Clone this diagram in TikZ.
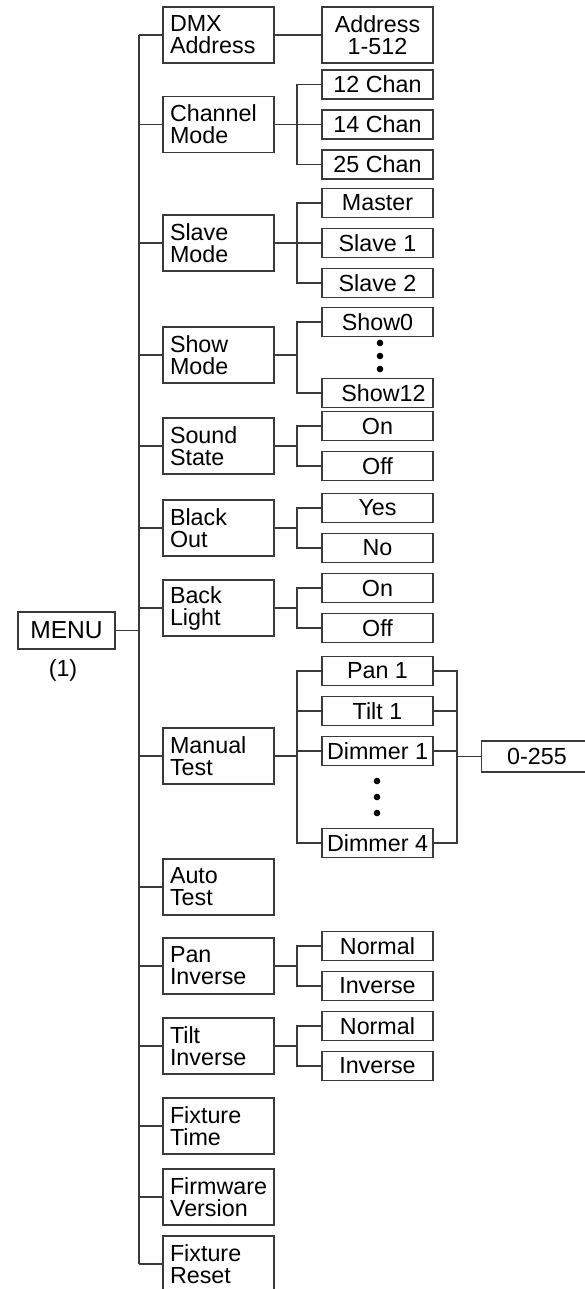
\documentclass[tikz,border=0pt]{standalone}
\usepackage{fontspec}
\setmainfont{Liberation Sans}
\definecolor{menuline}{HTML}{3A3A3A}

\begin{document}
\begin{tikzpicture}[
  x=1pt,
  y=-1pt,
  line join=miter,
  every node/.style={font=\fontsize{23.3}{22}\selectfont,text=black},
  mainbox/.style={draw=menuline,line width=1.3pt,minimum height=56pt,text width=97pt,inner xsep=7pt,inner ysep=0pt,align=left},
  subbox/.style={draw=menuline,line width=1.3pt,minimum width=111pt,minimum height=29pt,inner sep=0pt,align=center},
  link/.style={draw=menuline,line width=1.1pt}
]
  \useasboundingbox (0,0) rectangle (584,1289);

  % Bus lines: the main trunk and the two sub-menu buses.
  \coordinate (trunk) at (139,0);
  \coordinate (busL) at (297,0);
  \coordinate (busR) at (457,0);

  % Root of the menu tree.
  \node[draw=menuline,line width=1.3pt,minimum width=97pt,minimum height=37pt,inner sep=0pt,font=\fontsize{24.6}{24}\selectfont] (menu) at (66.5,630.5) {MENU};
  \node (menunum) at (63,670) {(1)};

  % First level, one box per menu entry.
  \node[mainbox] (dmx) at (218.5,35) {DMX\\Address};
  \node[mainbox] (chan) at (218.5,124.5) {Channel\\Mode};
  \node[mainbox] (slave) at (218.5,243) {Slave\\Mode};
  \node[mainbox] (show) at (218.5,355) {Show\\Mode};
  \node[mainbox] (sound) at (218.5,446) {Sound\\State};
  \node[mainbox] (black) at (218.5,528) {Black\\Out};
  \node[mainbox] (back) at (218.5,608) {Back\\Light};
  \node[mainbox] (manual) at (218.5,756) {Manual\\Test};
  \node[mainbox] (auto) at (218.5,887) {Auto\\Test};
  \node[mainbox] (paninv) at (218.5,966) {Pan\\Inverse};
  \node[mainbox] (tiltinv) at (218.5,1046) {Tilt\\Inverse};
  \node[mainbox] (ftime) at (218.5,1126) {Fixture\\Time};
  \node[mainbox] (firm) at (218.5,1197) {Firmware\\Version};
  \node[mainbox] (freset) at (218.5,1264) {Fixture\\Reset};

  % Second level settings.
  \node[subbox,minimum height=56pt] (addr) at (377.5,35) {Address\\1-512};
  \node[subbox] (c12) at (377.5,84.5) {12 Chan};
  \node[subbox] (c14) at (377.5,124.5) {14 Chan};
  \node[subbox] (c25) at (377.5,164.5) {25 Chan};
  \node[subbox] (master) at (377.5,203) {Master};
  \node[subbox] (slave1) at (377.5,243) {Slave 1};
  \node[subbox] (slave2) at (377.5,283) {Slave 2};
  \node[subbox] (show0) at (377.5,322) {Show0};
  \node[subbox] (show12) at (377.5,393) {\hspace*{12pt}Show12};
  \node[subbox] (son) at (377.5,426) {On};
  \node[subbox] (soff) at (377.5,466) {Off};
  \node[subbox] (yes) at (377.5,508) {Yes};
  \node[subbox] (no) at (377.5,548) {No};
  \node[subbox] (bon) at (377.5,588) {On};
  \node[subbox] (boff) at (377.5,628) {Off};
  \node[subbox] (pan1) at (377.5,671) {Pan 1};
  \node[subbox] (tilt1) at (377.5,711) {Tilt 1};
  \node[subbox] (dim1) at (377.5,751) {Dimmer 1};
  \node[subbox] (dim4) at (377.5,843) {Dimmer 4};
  \node[subbox] (pnorm) at (377.5,946) {Normal};
  \node[subbox] (pinv) at (377.5,986) {Inverse};
  \node[subbox] (tnorm) at (377.5,1026) {Normal};
  \node[subbox] (tinv) at (377.5,1066) {Inverse};

  % Value range shared by the manual test channels.
  \node[subbox,minimum height=31pt] (range) at (537,756.5) {0-255};

  % Trunk with its branches.
  \draw[link] (menu.east) -- (menu.east -| trunk);
  \draw[link] (dmx.west -| trunk) -- (freset.west -| trunk);
  \foreach \n in {dmx,chan,slave,show,sound,black,back,manual,auto,paninv,tiltinv,ftime,firm,freset} {
    \draw[link] (\n.west) -- (\n.west -| trunk);
  }

  % Sub-menu brackets.
  \draw[link] (dmx.east) -- (addr.west);
  \foreach \p/\first/\last in {chan/c12/c25,slave/master/slave2,show/show0/show12,sound/son/soff,black/yes/no,back/bon/boff,manual/pan1/dim4,paninv/pnorm/pinv,tiltinv/tnorm/tinv} {
    \draw[link] (\p.east) -- (\p.east -| busL);
    \draw[link] (\first.west) -- (\first.west -| busL) -- (\last.west -| busL) -- (\last.west);
  }
  \foreach \c in {c14,slave1,tilt1,dim1} {
    \draw[link] (\c.west) -- (\c.west -| busL);
  }

  % Right-hand bracket to the value range.
  \draw[link] (pan1.east) -- (pan1.east -| busR) -- (dim4.east -| busR) -- (dim4.east);
  \foreach \c in {tilt1,dim1} {
    \draw[link] (\c.east) -- (\c.east -| busR);
  }
  \draw[link] (range.west) -- (range.west -| busR);

  % Ellipsis dots for the omitted entries.
  \foreach \yy in {343,356,369} {
    \fill[black] (380,\yy) circle[radius=3.3pt];
  }
  \foreach \yy in {781,797,813} {
    \fill[black] (377,\yy) circle[radius=3.3pt];
  }
\end{tikzpicture}
\end{document}
